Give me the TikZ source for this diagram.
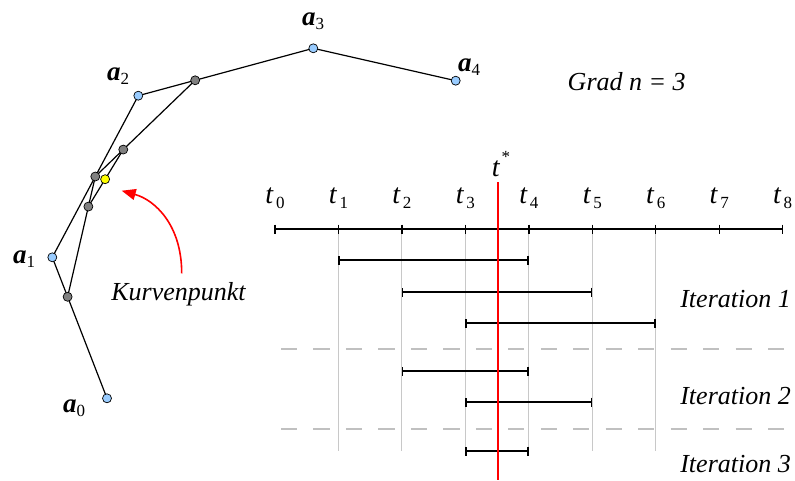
\documentclass[tikz,border=0pt]{standalone}
\usepackage{fontspec}
\setmainfont{Liberation Serif}
\newfontfamily\tnr{Liberation Serif}
\usetikzlibrary{arrows.meta,calc,backgrounds}
\definecolor{ptblue}{RGB}{153,204,255}
\definecolor{ptgray}{RGB}{128,128,128}
\definecolor{ptyellow}{RGB}{255,255,0}
\definecolor{lgray}{RGB}{200,200,200}
\definecolor{dgray}{RGB}{192,192,192}
\definecolor{tred}{RGB}{255,0,0}
\newcommand{\alab}[1]{{\tnr\fontsize{27}{27}\selectfont\bfseries\itshape a}\raisebox{-4pt}{\tnr\fontsize{17}{17}\selectfont #1}}
\newcommand{\tlab}[1]{{\tnr\fontsize{28}{28}\selectfont\itshape t}\raisebox{-5pt}{\tnr\fontsize{17}{17}\selectfont\,#1}}
\begin{document}
\begin{tikzpicture}[x=1pt,y=-1pt,
  cpt/.style={circle,draw=black,line width=0.7pt,fill=ptblue,minimum size=9pt,inner sep=0pt},
  gpt/.style={cpt,fill=ptgray},
  ypt/.style={cpt,fill=ptyellow},
  poly/.style={black,line width=1.2pt},
  lab/.style={font=\tnr\fontsize{26}{26}\selectfont\itshape,inner sep=0pt},
  axisline/.style={black,line width=1.4pt},
  ivl/.style={black,line width=1.4pt,{Bar[width=9pt,line width=1.4pt]}-{Bar[width=9pt,line width=1.4pt]}},
  guide/.style={lgray,line width=1pt},
  sep/.style={dgray,line width=1.5pt,dash pattern=on 16.2pt off 16.27pt},
  redline/.style={draw=tred,line width=1.6pt},
]
\useasboundingbox (0,0) rectangle (795,480);

% control points
\node[cpt] (a0) at (107,398.3) {};
\node[cpt] (a1) at (52.3,257.3) {};
\node[cpt] (a2) at (138.3,95.7) {};
\node[cpt] (a3) at (313.3,48.3) {};
\node[cpt] (a4) at (455.7,80.7) {};
% level 1
\node[gpt] (p01) at ($(a0.center)!0.72!(a1.center)$) {};
\node[gpt] (p12) at ($(a1.center)!0.5!(a2.center)$) {};
\node[gpt] (p23) at ($(a2.center)!0.325!(a3.center)$) {};
% level 2
\node[gpt] (q1) at ($(p01.center)!0.75!(p12.center)$) {};
\node[gpt] (q2) at ($(p12.center)!0.28!(p23.center)$) {};
% curve point
\node[ypt] (cp) at ($(q1.center)!0.48!(q2.center)$) {};

\begin{scope}[on background layer]
  \draw[poly] (a0.center) -- (a1.center) -- (a2.center) -- (a3.center) -- (a4.center);
  \draw[poly] (p01.center) -- (p12.center) -- (p23.center);
  \draw[poly] (q1.center) -- (q2.center);
\end{scope}

% labels of control points
\node[anchor=base west,inner sep=0pt] (la0) at (63,412) {\alab{0}};
\node[anchor=base west,inner sep=0pt] (la1) at (13,263) {\alab{1}};
\node[anchor=base west,inner sep=0pt] (la2) at (107,80) {\alab{2}};
\node[anchor=base west,inner sep=0pt] (la3) at (302,25) {\alab{3}};
\node[anchor=base west,inner sep=0pt] (la4) at (458,71) {\alab{4}};

% Kurvenpunkt arrow
\node[lab] (kp) at (178.5,294) {Kurvenpunkt};
\coordinate (arrstart) at (181.7,273.3);
\coordinate (arrtip) at (121.7,190.7);
\draw[redline,-{Triangle[length=14pt,width=11pt,fill=tred]}]
  (arrstart) .. controls (181.7,225) and (155,200) .. (arrtip);

% Grad
\node[lab] (grad) at (626.7,81.7) {Grad n = 3};

% knot axis
\foreach \i in {0,...,8} {
  \coordinate (k\i) at ({275+\i*63.46},229);
  \node[anchor=base,inner sep=0pt] (tl\i) at ({275+\i*63.46},203) {\tlab{\i}};
}
\coordinate (r1) at (0,260);
\coordinate (r2) at (0,292);
\coordinate (r3) at (0,323);
\coordinate (r4) at (0,371);
\coordinate (r5) at (0,402);
\coordinate (r6) at (0,451);

% guide lines
\foreach \i in {1,...,6} {
  \draw[guide] (k\i) -- (k\i |- r6);
}
% separators
\coordinate (s1a) at (281,349);
\coordinate (s1b) at (785,349);
\coordinate (s2a) at (281,429);
\coordinate (s2b) at (785,429);
\draw[sep] (s1a) -- (s1b);
\draw[sep] (s2a) -- (s2b);

\draw[axisline] (k0) -- (k8);
\foreach \i in {0,...,8} {
  \draw[black,line width=1.4pt] ($(k\i)+(0,-4.5)$) -- ($(k\i)+(0,4.5)$);
}

% intervals
\draw[ivl] (k1 |- r1) -- (k4 |- r1);
\draw[ivl] (k2 |- r2) -- (k5 |- r2);
\draw[ivl] (k3 |- r3) -- (k6 |- r3);
\draw[ivl] (k2 |- r4) -- (k4 |- r4);
\draw[ivl] (k3 |- r5) -- (k5 |- r5);
\draw[ivl] (k3 |- r6) -- (k4 |- r6);

\node[anchor=base,inner sep=0pt] (tstar) at (501,176)
  {{\tnr\fontsize{28}{28}\selectfont\itshape t}\kern2pt\raisebox{14pt}{\tnr\fontsize{17}{17}\selectfont *}};

% iteration labels
\node[lab,anchor=east] (it1) at (791,299) {Iteration 1};
\node[lab,anchor=east] (it2) at (791,396) {Iteration 2};
\node[lab,anchor=east] (it3) at (791,464) {Iteration 3};

% t* line
\coordinate (tstop) at (497.5,182);
\coordinate (tsbot) at (497.5,480);
\draw[draw=tred,line width=2pt] (tstop) -- (tsbot);
\end{tikzpicture}
\end{document}
